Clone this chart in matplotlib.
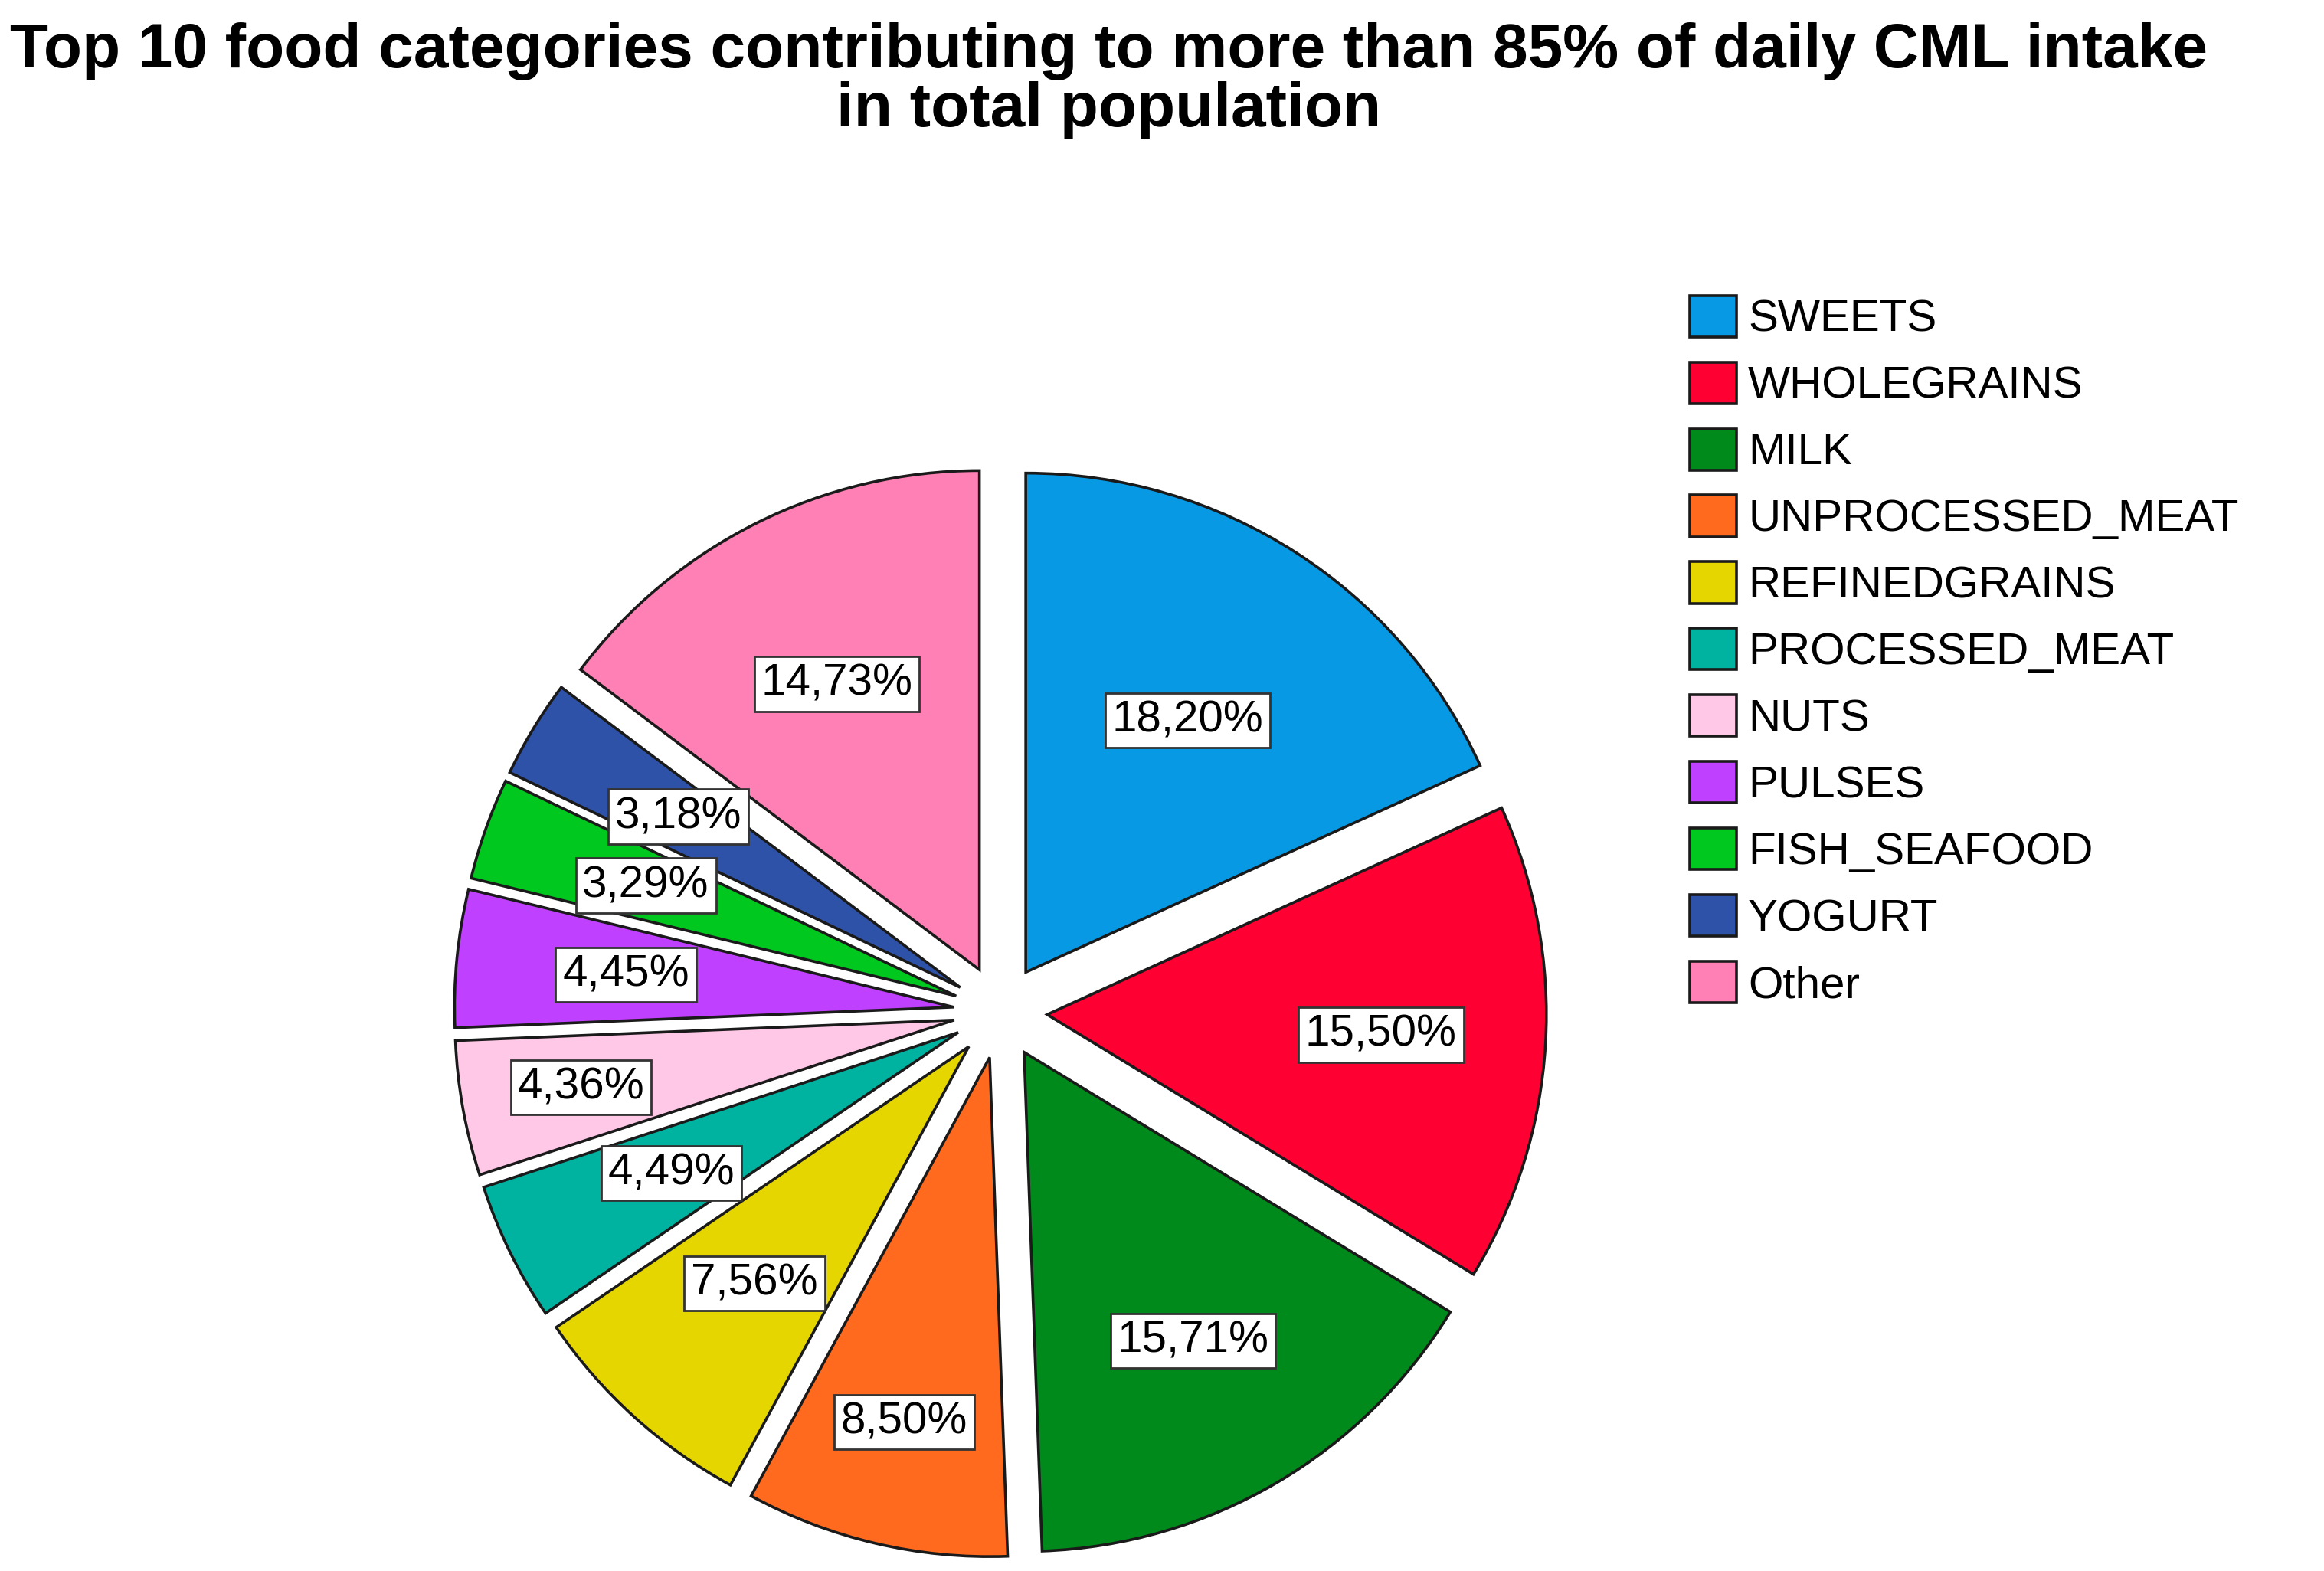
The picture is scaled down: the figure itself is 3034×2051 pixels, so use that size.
import matplotlib

matplotlib.use('Agg')

import matplotlib.pyplot as plt
import numpy as np

plt.rcParams['font.family'] = ['Liberation Sans', 'DejaVu Sans']

TITLE = 'Top 10 food categories contributing to more than 85% of daily CML intake\nin total population'

categories = ['SWEETS', 'WHOLEGRAINS', 'MILK', 'UNPROCESSED_MEAT', 'REFINEDGRAINS',
              'PROCESSED_MEAT', 'NUTS', 'PULSES', 'FISH_SEAFOOD', 'YOGURT', 'Other']
values = [18.20, 15.50, 15.71, 8.50, 7.56, 4.49, 4.36, 4.45, 3.29, 3.18, 14.73]
colors = ['#0799E4', '#FF0033', '#008A1C', '#FF6A1F', '#E6D600', '#00B3A0',
          '#FFC8E6', '#C040FF', '#00C81E', '#2D52A8', '#FF80B4']

pct_labels = [f'{v:.2f}%'.replace('.', ',') for v in values]

# layout: radial position of each value box (fraction of radius)
label_radius = [0.60, 0.67, 0.67, 0.75, 0.64, 0.64, 0.76, 0.66, 0.66, 0.66, 0.64]
EXPLODE = 0.094


fig = plt.figure(figsize=(15.17, 10.255), dpi=200)
fig.patch.set_facecolor('white')

ax = fig.add_axes([0.1727, -0.0255, 0.5155, 0.763])
wedges, _ = ax.pie(
    values,
    colors=colors,
    explode=[EXPLODE] * len(values),
    startangle=90,
    counterclock=False,
    wedgeprops={'edgecolor': '#1a1a1a', 'linewidth': 1.3},
)
for w, lab, dist in zip(wedges, pct_labels, label_radius):
    mid = np.deg2rad((w.theta1 + w.theta2) / 2)
    cx, cy = w.center
    ax.text(cx + dist * np.cos(mid), cy + dist * np.sin(mid), lab,
            ha='center', va='center', fontsize=21,
            bbox={'boxstyle': 'square,pad=0.15', 'fc': 'white', 'ec': '#333333', 'lw': 1.0})
ax.set_xlim(-1.2, 1.2)
ax.set_ylim(-1.2, 1.2)
ax.set_aspect('equal')
ax.axis('off')

fig.text(0.477, 0.986, TITLE, ha='center', va='top', fontsize=29.5,
         fontweight='bold', linespacing=1.02)

fig.legend(
    wedges, categories,
    loc='upper left', bbox_to_anchor=(0.727, 0.812),
    frameon=False, fontsize=21,
    handlelength=1.05, handleheight=1.05, handletextpad=0.26,
    labelspacing=0.48, borderpad=0, borderaxespad=0,
)

fig.savefig('out.png', dpi=200, facecolor='white')
